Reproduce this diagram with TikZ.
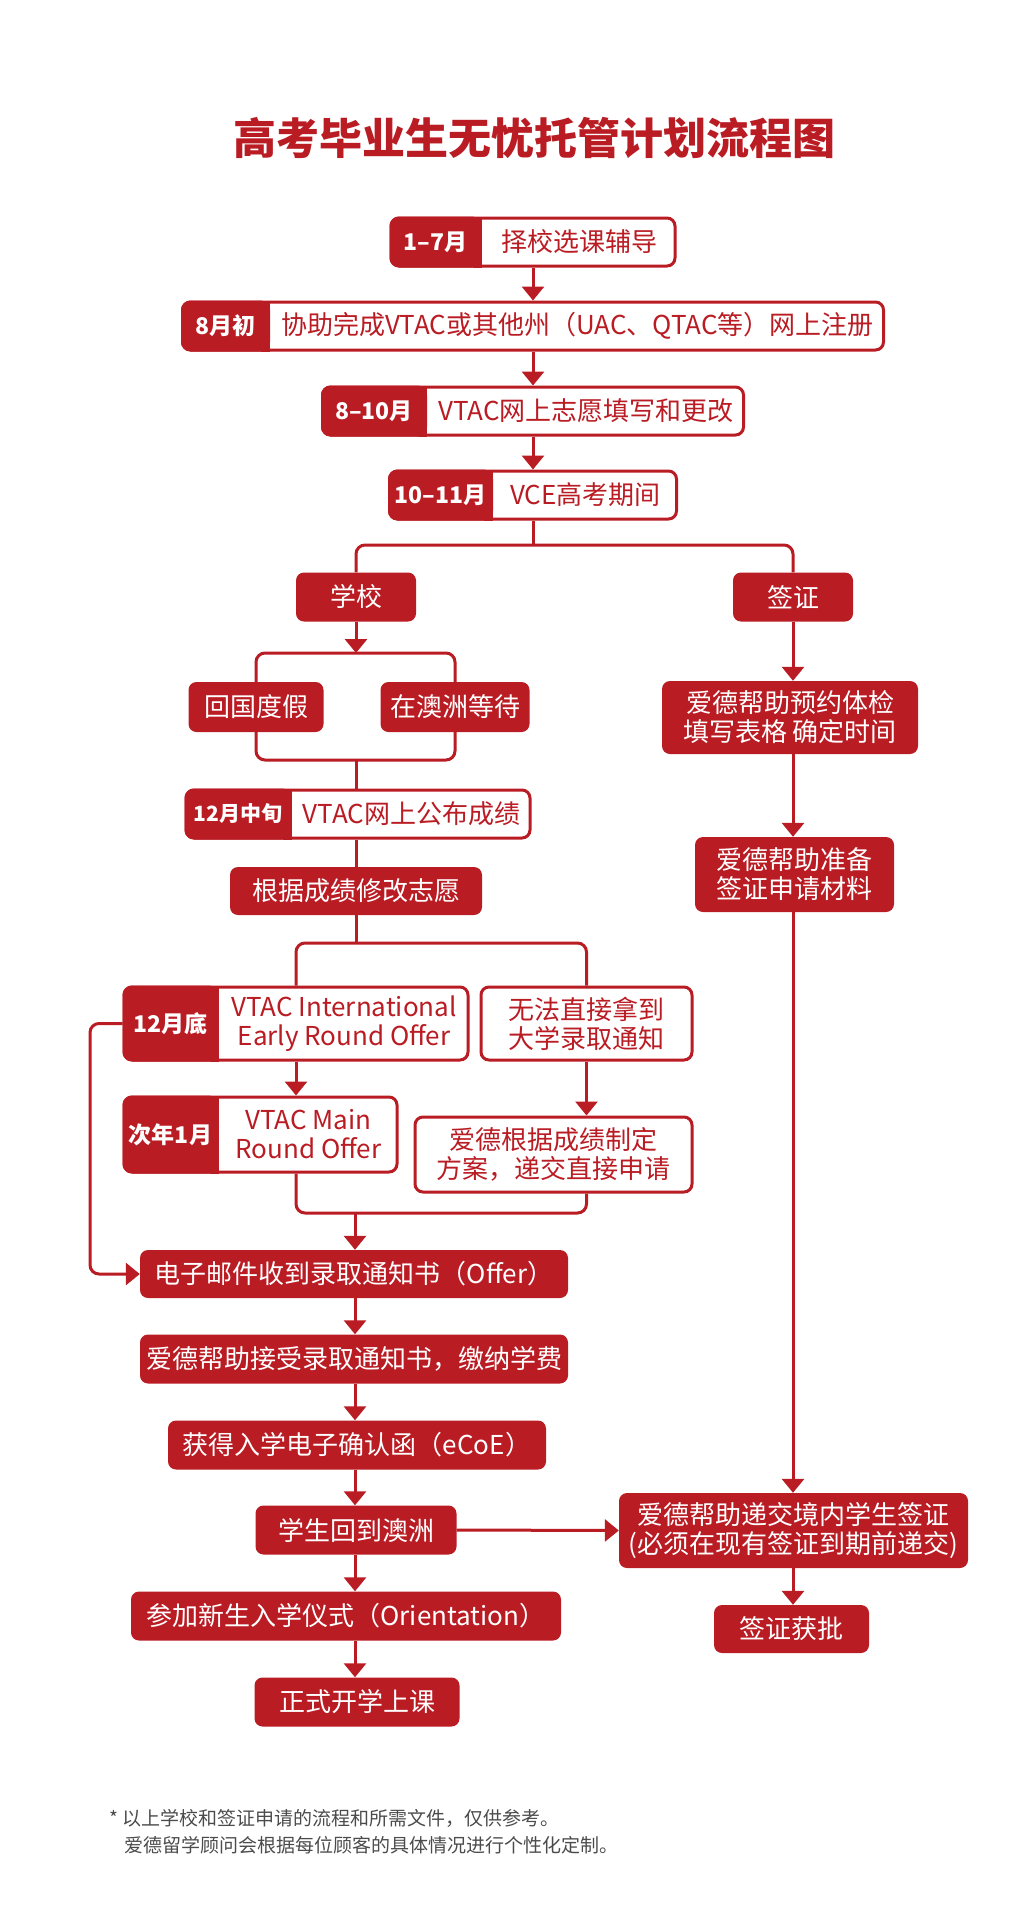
\documentclass[tikz,border=0pt]{standalone}
\usepackage{fontspec}
\setmainfont{Noto Sans CJK SC}
\usepackage{tikz}
\usetikzlibrary{arrows.meta,calc,positioning}
\definecolor{tagred}{RGB}{186,28,36}
\definecolor{notegray}{RGB}{75,75,75}
\tikzset{
  wbox/.style={draw=tagred, fill=white, line width=3pt, rounded corners=8pt, inner sep=0pt, minimum height=48pt},
  tag/.style={draw=tagred, fill=tagred, line width=3pt, rounded corners=8pt, inner sep=0pt, minimum height=48pt,
    text=white, font=\fontsize{23}{25}\selectfont\bfseries},
  rbox/.style={fill=tagred, rounded corners=8pt, inner sep=0pt, minimum height=49pt, text=white, align=center,
    font=\fontsize{26}{29}\selectfont},
  btxt/.style={text=tagred, align=center, font=\fontsize{26}{29}\selectfont},
  conn/.style={draw=tagred, line width=3pt, rounded corners=9pt},
  arr/.style={conn, -{Triangle[width=22pt,length=14pt]}},
  note/.style={text=notegray, anchor=west, inner sep=0pt, font=\fontsize{19}{22}\selectfont},
}

\begin{document}
\begin{tikzpicture}[x=1pt, y=-1pt]
\useasboundingbox (0,0) rectangle (1015,1920);
% Title
\node[text=tagred, font=\fontsize{43}{46}\selectfont\bfseries] (title) at (534,138) {高考毕业生无忧托管计划流程图};
% Top column
\node[wbox, minimum width=284pt] (sel) at (533,242) {};
\node[tag, minimum width=89pt, anchor=west] (selt) at (sel.west) {1–7月};
\fill[tagred] ([xshift=-9pt]selt.north east) rectangle (selt.south east);
\node[btxt] at ($(selt.east)!0.5!(sel.east)$) {择校选课辅导};
\node[wbox, minimum width=701pt] (reg) at (533,326) {};
\node[tag, minimum width=86pt, anchor=west] (regt) at (reg.west) {8月初};
\fill[tagred] ([xshift=-9pt]regt.north east) rectangle (regt.south east);
\node[btxt] at ($(regt.east)!0.5!(reg.east)$) {协助完成VTAC或其他州（UAC、QTAC等）网上注册};
\node[wbox, minimum width=421pt] (pref) at (533,411) {};
\node[tag, minimum width=103pt, anchor=west] (preft) at (pref.west) {8–10月};
\fill[tagred] ([xshift=-9pt]preft.north east) rectangle (preft.south east);
\node[btxt] at ($(preft.east)!0.5!(pref.east)$) {VTAC网上志愿填写和更改};
\node[wbox, minimum width=287pt] (exam) at (533,495) {};
\node[tag, minimum width=102pt, anchor=west] (examt) at (exam.west) {10–11月};
\fill[tagred] ([xshift=-9pt]examt.north east) rectangle (examt.south east);
\node[btxt] at ($(examt.east)!0.5!(exam.east)$) {VCE高考期间};
\draw[arr] (sel) -- (reg);
\draw[arr] (reg) -- (pref);
\draw[arr] (pref) -- (exam);
% Split into school and visa
\coordinate (split) at (533,545);
\node[rbox, minimum width=120pt] (school) at (356,597) {学校};
\node[rbox, minimum width=120pt] (visa) at (793,597) {签证};
\draw[conn] (exam.south) -- (split);
\draw[conn] (school.north) |- (split) -| (visa.north);
% School branch
\coordinate (brtop) at (356,653);
\coordinate (brbot) at (356,760);
\node[rbox, minimum width=135pt, minimum height=50pt] (home) at (256,707) {回国度假};
\node[rbox, minimum width=149pt, minimum height=50pt] (wait) at (455,707) {在澳洲等待};
\draw[arr] (school.south) -- (brtop);
\draw[conn] (home.north) |- (brtop) -| (wait.north);
\draw[conn] (home.south) |- (brbot) -| (wait.south);
\node[wbox, minimum width=344pt] (score) at (358,814) {};
\node[tag, minimum width=104pt, anchor=west, font=\fontsize{21}{23}\selectfont\bfseries] (scoret) at (score.west) {12月中旬};
\fill[tagred] ([xshift=-9pt]scoret.north east) rectangle (scoret.south east);
\node[btxt] at ($(scoret.east)!0.5!(score.east)$) {VTAC网上公布成绩};
\draw[conn] (brbot) -- (brbot |- score.north);
\node[rbox, minimum width=252pt, minimum height=48pt] (revise) at (356,891) {根据成绩修改志愿};
\draw[conn] (revise.north |- score.south) -- (revise.north);
% Offers
\coordinate (split2) at (356,943);
\node[wbox, minimum width=344pt, minimum height=73pt] (early) at (296,1023.5) {};
\node[tag, minimum width=93pt, minimum height=73pt, anchor=west] (earlyt) at (early.west) {12月底};
\fill[tagred] ([xshift=-9pt]earlyt.north east) rectangle (earlyt.south east);
\node[btxt] at ($(earlyt.east)!0.5!(early.east)$) {VTAC International\\Early Round Offer};
\node[wbox, minimum width=211pt, minimum height=73pt, btxt] (direct) at (586.5,1023.5) {无法直接拿到\\大学录取通知};
\draw[conn] (revise.south) -- (split2);
\draw[conn] (early.north) |- (split2) -| (direct.north);
\node[wbox, minimum width=273pt, minimum height=75pt] (main) at (260.5,1134.5) {};
\node[tag, minimum width=93pt, minimum height=75pt, anchor=west] (maint) at (main.west) {次年1月};
\fill[tagred] ([xshift=-9pt]maint.north east) rectangle (maint.south east);
\node[btxt] at ($(maint.east)!0.5!(main.east)$) {VTAC Main\\Round Offer};
\node[wbox, minimum width=277pt, minimum height=75pt, btxt] (plan) at (553.5,1154.5) {爱德根据成绩制定\\方案，递交直接申请};
\draw[arr] (early.south) -- (early.south |- main.north);
\draw[arr] (direct.south) -- (direct.south |- plan.north);
\coordinate (brbot2) at (355,1213);
\draw[conn] (early.south |- main.south) |- (brbot2) -| (direct.south |- plan.south);
% Enrolment steps
\node[rbox, minimum width=428pt, minimum height=48pt] (email) at (354,1274) {电子邮件收到录取通知书（Offer）};
\node[rbox, minimum width=428pt] (accept) at (354,1359) {爱德帮助接受录取通知书，缴纳学费};
\node[rbox, minimum width=378pt] (ecoe) at (357,1445) {获得入学电子确认函（eCoE）};
\node[rbox, minimum width=201pt] (back) at (356,1530) {学生回到澳洲};
\node[rbox, minimum width=430pt] (orient) at (346,1616) {参加新生入学仪式（Orientation）};
\node[rbox, minimum width=205pt] (start) at (357,1702) {正式开学上课};
\draw[arr] (brbot2) -- (brbot2 |- email.north);
\coordinate (loop) at (90,1023.5);
\draw[arr] (early.west) -- (loop) |- (email.west);
\draw[arr] (brbot2 |- email.south) -- (brbot2 |- accept.north);
\draw[arr] (brbot2 |- accept.south) -- (brbot2 |- ecoe.north);
\draw[arr] (brbot2 |- ecoe.south) -- (brbot2 |- back.north);
\draw[arr] (brbot2 |- back.south) -- (brbot2 |- orient.north);
\draw[arr] (brbot2 |- orient.south) -- (brbot2 |- start.north);
% Visa branch
\node[rbox, minimum width=256pt, minimum height=73pt] (med) at (790,717.5) {爱德帮助预约体检\\填写表格 确定时间};
\node[rbox, minimum width=199pt, minimum height=75pt] (prep) at (794.5,874.5) {爱德帮助准备\\签证申请材料};
\node[rbox, minimum width=349pt, minimum height=75pt] (apply) at (793.5,1530.5) {爱德帮助递交境内学生签证\\(必须在现有签证到期前递交)};
\node[rbox, minimum width=155pt, minimum height=48pt] (grant) at (791.5,1629) {签证获批};
\draw[arr] (visa.south) -- (visa.south |- med.north);
\draw[arr] (visa.south |- med.south) -- (visa.south |- prep.north);
\draw[arr] (visa.south |- prep.south) -- (visa.south |- apply.north);
\draw[arr] (visa.south |- apply.south) -- (visa.south |- grant.north);
\draw[arr] (back.east) -- (apply.west);
% Footnote
\node[note] (note1) at (109,1818) {* 以上学校和签证申请的流程和所需文件，仅供参考。};
\node[note] (note2) at (124,1845) {爱德留学顾问会根据每位顾客的具体情况进行个性化定制。};
\end{tikzpicture}
\end{document}
